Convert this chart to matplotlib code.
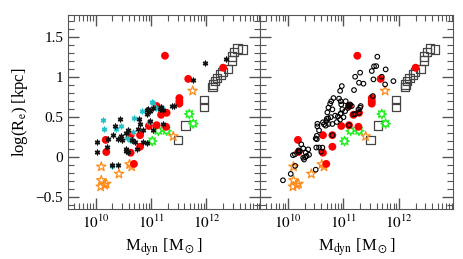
import numpy as np
import matplotlib
matplotlib.use("Agg")
import matplotlib.pyplot as plt
from matplotlib.ticker import LogLocator, MultipleLocator, FuncFormatter, NullFormatter

plt.rcParams['font.family'] = ['Liberation Serif', 'DejaVu Serif']
plt.rcParams['mathtext.fontset'] = 'stix'

# log10(M_dyn / Msun), log10(R_e / kpc)
red_logm = [11.25, 11.67, 11.51, 11.51, 11.51, 11.10, 11.18, 11.28, 10.96, 11.10,
            11.27, 10.63, 10.80, 10.18, 10.19, 10.63, 10.80, 10.69, 12.30]
red_logr = [1.27, 0.98, 0.74, 0.70, 0.67, 0.64, 0.53, 0.555, 0.39, 0.40,
            0.38, 0.275, 0.275, 0.216, 0.064, 0.055, 0.13, -0.085, 1.12]

ostar_logm = [11.75, 11.40, 10.10, 10.61, 10.65, 10.42, 10.10, 10.19, 10.09, 10.16]
ostar_logr = [0.83, 0.26, -0.12, -0.09, -0.12, -0.21, -0.29, -0.335, -0.37, -0.35]

green_logm = [11.69, 11.76, 11.13, 11.28, 11.02]
green_logr = [0.54, 0.42, 0.33, 0.33, 0.20]

sq_logm = [12.56, 12.65, 12.50, 12.455, 12.455, 12.39, 12.29, 12.25, 12.19, 12.15,
           12.12, 12.11, 11.95, 11.95, 11.62, 11.49]
sq_logr = [1.36, 1.35, 1.32, 1.26, 1.21, 1.10, 1.065, 1.036, 0.995, 0.952,
           0.911, 0.882, 0.714, 0.632, 0.397, 0.213]

# left panel: black and cyan asterisks
blk_logm = [10.02, 10.03, 10.20, 10.23, 10.32, 10.35, 10.43, 10.41, 10.47, 10.54,
            10.59, 10.54, 10.40, 10.76, 10.86, 10.785, 10.80, 10.86, 10.92, 10.93,
            10.92, 10.98, 11.18, 11.22, 11.22, 10.75, 10.95, 11.16, 11.37, 11.415,
            11.98, 11.76, 12.36, 10.98, 10.55, 10.58, 10.66, 10.70, 11.03, 10.45,
            11.04, 10.30]
blk_logr = [0.19, 0.067, 0.125, 0.23, 0.276, 0.389, 0.481, 0.23, 0.21, 0.305,
            0.338, 0.075, -0.10, 0.355, 0.335, 0.472, 0.42, 0.188, 0.183, 0.535,
            0.589, 0.576, 0.627, 0.585, 0.418, 0.105, 0.598, 0.598, 0.64, 0.64,
            1.18, 0.96, 1.233, 0.451, 0.10, 0.07, 0.22, 0.19, 0.345, 0.26,
            0.61, -0.10]

cyan_logm = [10.136, 10.15, 10.30, 10.365, 10.455, 10.69, 10.557, 10.666, 10.677, 10.84,
             11.013, 11.08, 10.96, 11.20, 11.026, 10.61]
cyan_logr = [0.464, 0.347, -0.117, 0.356, 0.389, 0.49, 0.243, 0.313, 0.20, 0.58,
             0.694, 0.619, 0.443, 0.62, 0.68, 0.22]

# right panel: open circles
circ_logm = [9.91, 10.05, 10.13, 10.50, 10.09, 10.125, 10.215, 10.19, 10.24, 10.275,
             10.29, 10.31, 10.335, 10.365, 10.32, 10.38, 10.275, 10.50, 10.51, 10.56,
             10.62, 10.60, 10.53, 10.53, 10.56, 10.65, 10.69, 10.725, 10.73, 10.76,
             10.78, 10.80, 10.82, 10.71, 10.85, 10.90, 10.88, 10.94, 11.00, 10.95,
             10.80, 10.73, 10.68, 10.63, 10.77, 10.70, 10.95, 10.96, 10.98, 11.04,
             11.18, 11.21, 11.30, 11.09, 11.12, 11.15, 11.08, 11.31, 11.27, 11.03,
             10.95, 10.97, 10.94, 10.92, 11.61, 11.55, 11.59, 11.51, 11.69, 11.76,
             11.54, 11.90, 11.75, 11.30, 11.21, 11.28, 11.36, 11.19, 11.53, 11.10,
             11.28, 10.80, 10.19, 11.10, 10.52, 10.52]
circ_logr = [-0.29, -0.21, -0.11, -0.157, 0.025, 0.034, 0.076, 0.084, 0.16, 0.109,
             -0.03, 0.0, 0.013, 0.097, 0.055, 0.03, -0.008, 0.234, 0.12, 0.12,
             0.119, 0.067, 0.385, 0.418, 0.335, 0.41, 0.451, 0.485, 0.62, 0.67,
             0.70, 0.598, 0.74, 0.56, 0.52, 0.51, 0.44, 0.47, 0.50, 0.54,
             0.415, 0.415, 0.394, 0.436, 0.50, 0.48, 0.70, 0.66, 0.60, 0.70,
             0.535, 0.54, 0.62, 0.65, 0.66, 0.64, 0.615, 0.64, 0.598, 0.576,
             0.547, 0.89, 0.83, 0.733, 1.258, 1.137, 1.14, 1.078, 1.007, 1.099,
             0.974, 0.952, 0.911, 1.058, 1.007, 0.932, 0.92, 0.84, 0.765, 0.636,
             0.555, 0.275, 0.064, 0.40, 0.267, 0.225]

xticks = [1e10, 1e11, 1e12]
xticklabels = [r'$10^{10}$', r'$10^{11}$', r'$10^{12}$']

fig = plt.figure(figsize=(4.63, 2.59), dpi=100)
ax1 = fig.add_axes([0.147, 0.193, 0.415, 0.749])
ax2 = fig.add_axes([0.562, 0.193, 0.416, 0.749])

asterisk = (6, 2, 0)
gear = (8, 1, 0)


def common(ax):
    ax.scatter(10**np.array(sq_logm), sq_logr, s=36, marker='s', facecolors='none',
               edgecolors='#444444', linewidths=0.9, zorder=3)
    ax.scatter(10**np.array(ostar_logm), ostar_logr, s=50, marker='*', facecolors='none',
               edgecolors='#ff8c1a', linewidths=0.9, zorder=3)
    ax.scatter(10**np.array(green_logm), green_logr, s=45, marker=gear, facecolors='none',
               edgecolors='#22ee22', linewidths=1.0, zorder=3)
    ax.scatter(10**np.array(red_logm), red_logr, s=32, marker='o', color='#ff0000',
               edgecolors='none', zorder=4)


for ax in (ax1, ax2):
    common(ax)

ax1.scatter(10**np.array(cyan_logm), cyan_logr, s=11, marker=asterisk, color='#22c0c8',
            linewidths=1.0, zorder=5)
ax1.scatter(10**np.array(blk_logm), blk_logr, s=11, marker=asterisk, color='#111111',
            linewidths=1.0, zorder=5)
ax2.scatter(10**np.array(circ_logm), circ_logr, s=11, marker='o', facecolors='none',
            edgecolors='black', linewidths=0.8, zorder=5)

fmt = FuncFormatter(lambda v, p: f'{v:g}'.replace('-', '\u2212'))
for ax in (ax1, ax2):
    ax.set_xscale('log')
    ax.set_xlim(10**9.5, 10**12.97)
    ax.set_ylim(-0.65, 1.78)
    ax.set_xticks(xticks)
    ax.set_xticklabels(xticklabels)
    ax.xaxis.set_minor_locator(LogLocator(base=10, subs=np.arange(2, 10)))
    ax.xaxis.set_minor_formatter(NullFormatter())
    ax.yaxis.set_major_locator(MultipleLocator(0.5))
    ax.yaxis.set_minor_locator(MultipleLocator(0.1))
    ax.tick_params(which='both', direction='in', top=True, right=True, labelsize=11,
                   color='#555555')
    ax.tick_params(which='major', length=8, width=1)
    ax.tick_params(which='minor', length=4, width=0.8)
    for sp in ax.spines.values():
        sp.set_color('#555555')
    ax.set_xlabel(r'M$_{\rm dyn}$ [M$_\odot$]', fontsize=12)

ax1.yaxis.set_major_formatter(fmt)
ax1.set_ylabel(r'log(R$_{\rm e}$) [kpc]', fontsize=12)
ax2.tick_params(labelleft=False)

fig.savefig('out.png', dpi=100)
